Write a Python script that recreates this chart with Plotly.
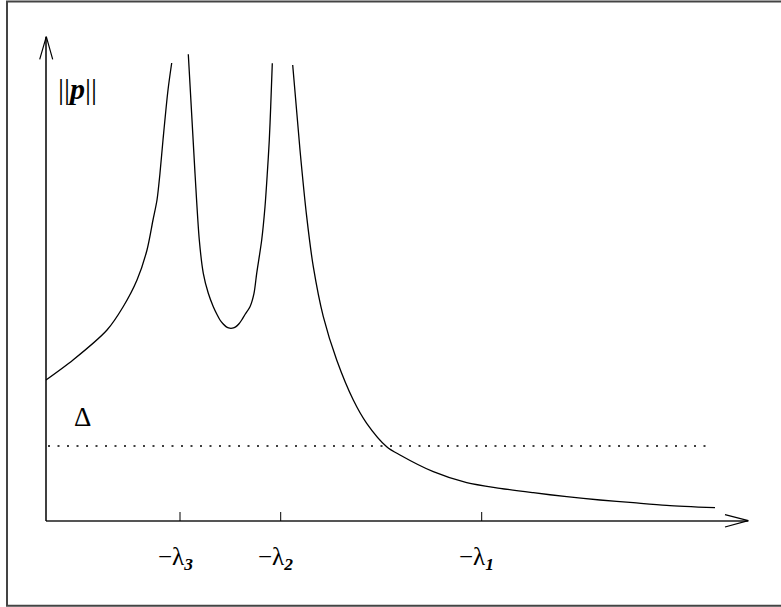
import plotly.graph_objects as go

# Curve ||p(lambda)|| (x: lambda-axis units, y: norm units)
seg_left_x = [0.00, 0.27, 0.61, 0.77, 0.91, 1.01, 1.07, 1.11, 1.14, 1.17, 1.22, 1.257]
seg_left_y = [1.41, 1.61, 1.91, 2.14, 2.41, 2.71, 3.01, 3.21, 3.48, 3.81, 4.31, 4.58]

seg_mid_x = [1.423, 1.49, 1.533, 1.573, 1.623, 1.673, 1.71, 1.74, 1.77, 1.80, 1.825, 1.85, 1.875, 1.90, 1.93, 1.957, 1.99, 2.04, 2.08, 2.107, 2.157, 2.19, 2.213, 2.233, 2.247, 2.263]
seg_mid_y = [4.667, 3.477, 2.81, 2.477, 2.277, 2.143, 2.065, 2.01, 1.972, 1.944, 1.931, 1.927, 1.931, 1.944, 1.972, 2.01, 2.065, 2.143, 2.277, 2.477, 2.81, 3.143, 3.477, 3.81, 4.143, 4.577]

seg_right_x = [2.467, 2.54, 2.607, 2.673, 2.773, 2.907, 3.073, 3.207, 3.407, 3.54, 3.873, 4.207, 4.54, 4.873, 5.207, 5.54, 5.873, 6.207, 6.69]
seg_right_y = [4.56, 3.71, 3.043, 2.543, 2.043, 1.61, 1.21, 0.977, 0.743, 0.66, 0.493, 0.383, 0.327, 0.283, 0.243, 0.21, 0.183, 0.157, 0.133]

delta_level = 0.75
delta_x_range = [0.02, 6.67]

tick_vals = [1.34, 2.347, 4.357]
tick_labels = ["−λ<sub><b><i>3</i></b></sub>", "−λ<sub><b><i>2</i></b></sub>", "−λ<sub><b><i>1</i></b></sub>"]

x_axis_end = 7.023
y_axis_end = 4.843

FONT = "Liberation Serif, Times New Roman, serif"

fig = go.Figure()

for sx, sy in [(seg_left_x, seg_left_y), (seg_mid_x, seg_mid_y), (seg_right_x, seg_right_y)]:
    fig.add_trace(go.Scatter(x=sx, y=sy, mode="lines",
                             line=dict(color="black", width=1.3, shape="spline", smoothing=0.8),
                             hoverinfo="skip", showlegend=False))

# Delta dotted level
fig.add_trace(go.Scatter(x=delta_x_range, y=[delta_level, delta_level], mode="lines",
                         line=dict(color="black", width=1.5, dash="2px,7.5px"),
                         hoverinfo="skip", showlegend=False))

# Axes with open arrowheads
axis_col = "#555555"
fig.add_trace(go.Scatter(x=[0, x_axis_end], y=[0, 0], mode="lines",
                         line=dict(color=axis_col, width=2), hoverinfo="skip", showlegend=False))
fig.add_trace(go.Scatter(x=[x_axis_end - 0.233, x_axis_end, x_axis_end - 0.233], y=[0.064, 0.003, -0.06],
                         mode="lines", line=dict(color="black", width=1.2), hoverinfo="skip", showlegend=False))
fig.add_trace(go.Scatter(x=[0, 0], y=[0, y_axis_end], mode="lines",
                         line=dict(color="black", width=1.5), hoverinfo="skip", showlegend=False))
fig.add_trace(go.Scatter(x=[-0.063, 0.003, 0.067], y=[y_axis_end - 0.226, y_axis_end, y_axis_end - 0.226],
                         mode="lines", line=dict(color="black", width=1.2), hoverinfo="skip", showlegend=False))

# Tick marks
for tv in tick_vals:
    fig.add_trace(go.Scatter(x=[tv, tv], y=[0, 0.09], mode="lines",
                             line=dict(color="black", width=1), hoverinfo="skip", showlegend=False))

# Tick labels
for tv, tl in zip(tick_vals, tick_labels):
    fig.add_annotation(x=tv, y=-0.37, text=tl, showarrow=False, xshift=-5,
                       font=dict(family=FONT, size=25, color="black"))

fig.add_annotation(x=0.315, y=4.33, text="||<b><i>p</i></b>||", showarrow=False,
                   font=dict(family=FONT, size=30, color="black"))
fig.add_annotation(x=0.367, y=1.04, text="Δ", showarrow=False,
                   font=dict(family=FONT, size=27, color="black"))

# Outer frame (right edge lies just beyond the picture)
fig.add_shape(type="rect", xref="paper", yref="paper",
              x0=7 / 781, x1=1.02, y0=1 - 605.7 / 607, y1=1 - 1.5 / 607,
              line=dict(color="#444444", width=2))

fig.update_layout(
    width=781, height=607, autosize=False,
    margin=dict(l=0, r=0, t=0, b=0),
    paper_bgcolor="white", plot_bgcolor="white",
    xaxis=dict(range=[-0.46, 7.35], visible=False, fixedrange=True),
    yaxis=dict(range=[-0.86, 5.21], visible=False, fixedrange=True),
)

fig.write_html("out.html", config={"displayModeBar": False},
               post_script="document.body.style.margin='0';document.body.style.overflow='hidden';")
